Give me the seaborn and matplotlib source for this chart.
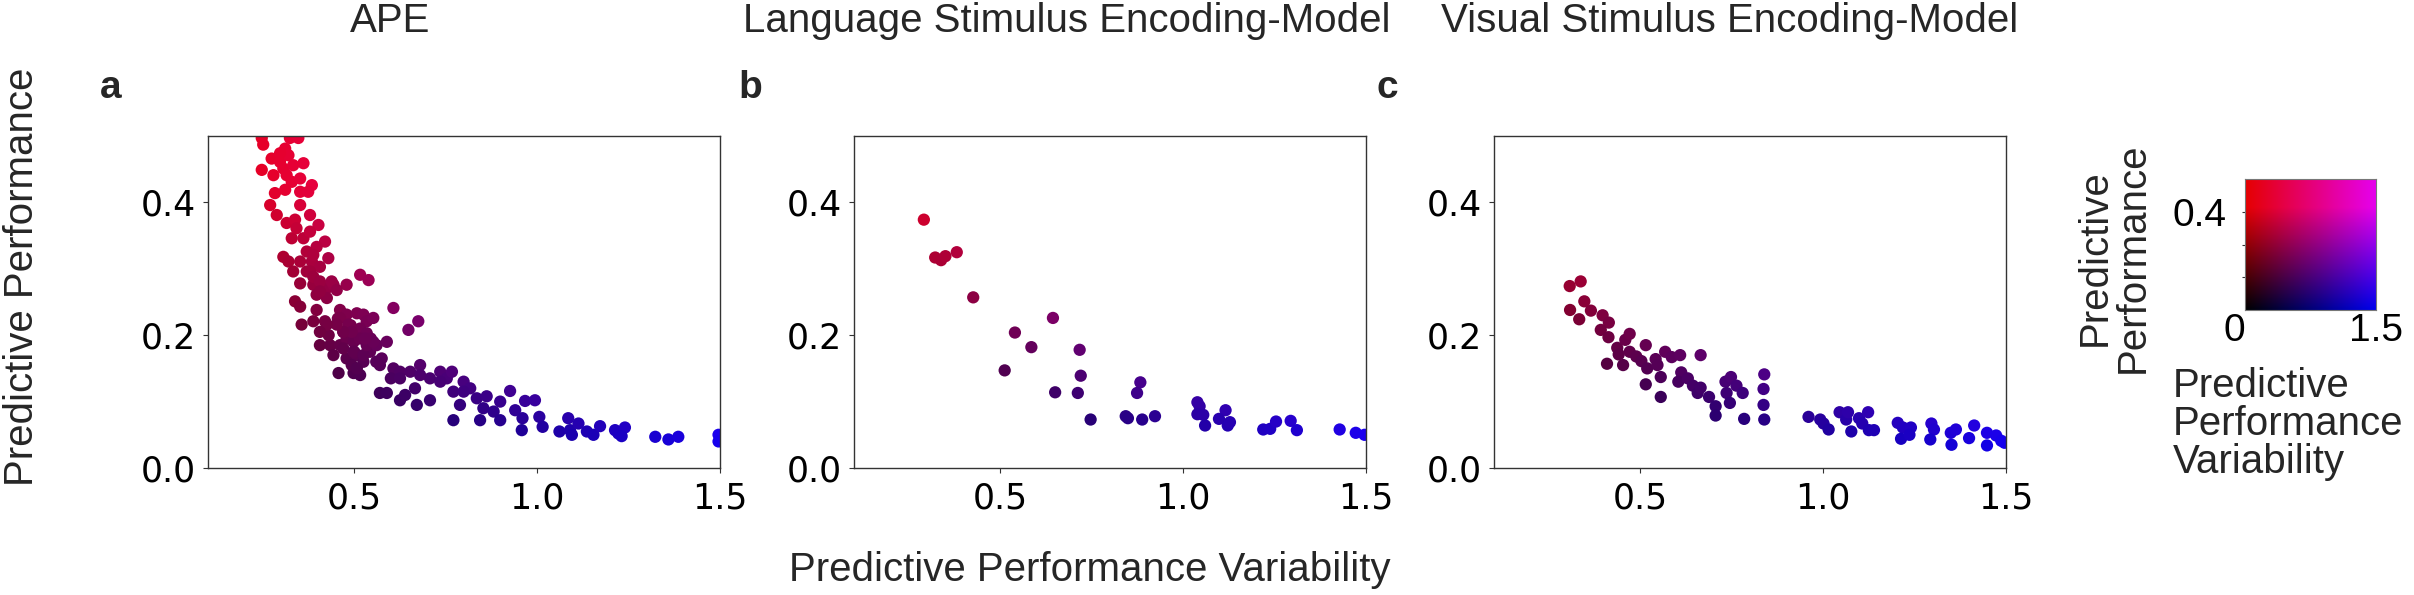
import numpy as np
import pandas as pd
import matplotlib
matplotlib.use("Agg")
import matplotlib.pyplot as plt
import seaborn as sns

# ── Data ──────────────────────────────────────────
ape_var = [0.247, 0.251, 0.274, 0.297, 0.311, 0.320, 0.324, 0.347, 0.306, 0.247,
           0.279, 0.315, 0.329, 0.361, 0.352, 0.384, 0.374, 0.283, 0.270, 0.288,
           0.352, 0.379, 0.315, 0.338, 0.402, 0.329, 0.361, 0.379, 0.420, 0.306,
           0.320, 0.333, 0.397, 0.429, 0.384, 0.370, 0.406, 0.352, 0.388, 0.425,
           0.443, 0.479, 0.397, 0.425, 0.338, 0.352, 0.356, 0.397, 0.420, 0.461,
           0.479, 0.507, 0.525, 0.534, 0.552, 0.516, 0.534, 0.406, 0.434, 0.443,
           0.461, 0.479, 0.498, 0.479, 0.507, 0.525, 0.543, 0.561, 0.589, 0.575,
           0.516, 0.539, 0.607, 0.648, 0.675, 0.457, 0.498, 0.516, 0.570, 0.607,
           0.625, 0.653, 0.680, 0.707, 0.666, 0.570, 0.589, 0.625, 0.639, 0.671,
           0.707, 0.735, 0.753, 0.771, 0.799, 0.789, 0.817, 0.835, 0.862, 0.853,
           0.881, 0.771, 0.844, 0.899, 0.899, 0.926, 0.940, 0.967, 0.994, 0.960,
           0.958, 1.006, 1.015, 1.061, 1.085, 1.090, 1.095, 1.113, 1.136, 1.154,
           1.172, 1.213, 1.222, 1.240, 1.231, 1.323, 1.359, 1.386, 1.496, 1.496,
           0.470, 0.490, 0.455, 0.515, 0.430, 0.470, 0.500, 0.545, 0.560, 0.600,
           0.461, 0.484, 0.493, 0.470, 0.452, 0.425, 0.388, 0.406, 0.498, 0.525,
           0.534, 0.552, 0.493, 0.507, 0.530, 0.379, 0.388, 0.406, 0.438, 0.452,
           0.406, 0.370, 0.388, 0.352, 0.342, 0.352, 0.297, 0.333, 0.311, 0.625,
           0.680, 0.735, 0.767, 0.799]
ape_perf = [0.497, 0.487, 0.466, 0.461, 0.481, 0.471, 0.497, 0.497, 0.451, 0.449,
            0.441, 0.441, 0.431, 0.459, 0.416, 0.426, 0.416, 0.414, 0.396, 0.381,
            0.396, 0.381, 0.369, 0.374, 0.366, 0.346, 0.346, 0.356, 0.341, 0.318,
            0.311, 0.296, 0.333, 0.316, 0.311, 0.296, 0.303, 0.278, 0.276, 0.271,
            0.276, 0.276, 0.261, 0.256, 0.251, 0.243, 0.216, 0.238, 0.221, 0.238,
            0.231, 0.233, 0.231, 0.221, 0.226, 0.210, 0.203, 0.185, 0.185, 0.170,
            0.185, 0.195, 0.190, 0.165, 0.170, 0.160, 0.175, 0.185, 0.190, 0.165,
            0.291, 0.283, 0.241, 0.208, 0.221, 0.143, 0.143, 0.140, 0.155, 0.150,
            0.145, 0.145, 0.155, 0.135, 0.120, 0.113, 0.113, 0.102, 0.110, 0.095,
            0.102, 0.145, 0.135, 0.115, 0.130, 0.095, 0.120, 0.105, 0.108, 0.090,
            0.085, 0.072, 0.072, 0.100, 0.072, 0.116, 0.087, 0.101, 0.102, 0.075,
            0.057, 0.077, 0.062, 0.055, 0.075, 0.057, 0.050, 0.067, 0.055, 0.050,
            0.063, 0.057, 0.052, 0.061, 0.048, 0.047, 0.043, 0.047, 0.050, 0.040,
            0.205, 0.215, 0.225, 0.195, 0.200, 0.180, 0.175, 0.195, 0.160, 0.135,
            0.226, 0.216, 0.205, 0.205, 0.216, 0.216, 0.221, 0.205, 0.175, 0.170,
            0.185, 0.190, 0.155, 0.150, 0.195, 0.296, 0.288, 0.281, 0.281, 0.268,
            0.266, 0.326, 0.321, 0.311, 0.361, 0.436, 0.474, 0.456, 0.419, 0.135,
            0.140, 0.130, 0.145, 0.115]

lang_var = [0.291, 0.322, 0.338, 0.350, 0.381, 0.426, 0.512, 0.540, 0.585, 0.644,
            0.650, 0.717, 0.720, 0.712, 0.747, 0.843, 0.849, 0.883, 0.874, 0.888,
            0.923, 1.039, 1.045, 1.039, 1.055, 1.060, 1.116, 1.098, 1.122, 1.128,
            1.219, 1.238, 1.254, 1.294, 1.311, 1.428, 1.472, 1.496]
lang_perf = [0.374, 0.317, 0.313, 0.319, 0.325, 0.257, 0.147, 0.204, 0.182, 0.226,
             0.114, 0.178, 0.139, 0.113, 0.073, 0.078, 0.075, 0.129, 0.113, 0.073,
             0.078, 0.099, 0.093, 0.081, 0.080, 0.064, 0.087, 0.074, 0.064, 0.069,
             0.058, 0.059, 0.070, 0.071, 0.057, 0.058, 0.053, 0.050]

vis_var = [0.307, 0.337, 0.308, 0.333, 0.347, 0.365, 0.397, 0.414, 0.392, 0.413,
           0.409, 0.437, 0.459, 0.471, 0.453, 0.441, 0.471, 0.489, 0.515, 0.503,
           0.519, 0.515, 0.542, 0.547, 0.568, 0.556, 0.556, 0.586, 0.609, 0.612,
           0.604, 0.630, 0.665, 0.644, 0.657, 0.665, 0.688, 0.706, 0.706, 0.733,
           0.748, 0.736, 0.763, 0.745, 0.780, 0.784, 0.839, 0.837, 0.837, 0.839,
           0.960, 0.992, 1.001, 1.015, 1.045, 1.063, 1.077, 1.068, 1.098, 1.107,
           1.123, 1.125, 1.139, 1.204, 1.218, 1.213, 1.240, 1.236, 1.296, 1.303,
           1.293, 1.349, 1.351, 1.363, 1.399, 1.413, 1.448, 1.448, 1.473, 1.487,
           1.496]
vis_perf = [0.274, 0.281, 0.238, 0.224, 0.251, 0.237, 0.230, 0.219, 0.208, 0.197,
            0.157, 0.181, 0.193, 0.202, 0.155, 0.171, 0.175, 0.168, 0.185, 0.161,
            0.150, 0.126, 0.164, 0.155, 0.175, 0.137, 0.107, 0.167, 0.170, 0.144,
            0.130, 0.135, 0.170, 0.124, 0.113, 0.121, 0.107, 0.093, 0.079, 0.130,
            0.137, 0.113, 0.124, 0.098, 0.113, 0.074, 0.141, 0.119, 0.095, 0.073,
            0.077, 0.073, 0.067, 0.058, 0.084, 0.073, 0.055, 0.084, 0.075, 0.067,
            0.084, 0.057, 0.057, 0.068, 0.061, 0.044, 0.061, 0.050, 0.067, 0.058,
            0.043, 0.053, 0.035, 0.058, 0.045, 0.064, 0.053, 0.034, 0.049, 0.041,
            0.038]

panel_titles = ["APE", "Language Stimulus Encoding-Model", "Visual Stimulus Encoding-Model"]
panel_letters = ["a", "b", "c"]
x_ticks = [0.5, 1.0, 1.5]
y_ticks = [0.0, 0.2, 0.4]


def bivariate_color(var, perf):
    # red grows with performance, blue with variability
    r = 0.9 * np.clip(np.asarray(perf, dtype=float) / 0.42, 0, 1)
    b = 0.93 * np.clip(np.asarray(var, dtype=float) / 1.5, 0, 1)
    return np.stack([r, np.zeros_like(r), b], axis=-1)


sns.set_style("ticks")
plt.rcParams['font.family'] = ['DejaVu Sans']
plt.rcParams.update({
    'axes.edgecolor': '#333333',
    'axes.linewidth': 1.0,
    'xtick.major.size': 3.6,
    'ytick.major.size': 3.6,
    'xtick.major.width': 0.8,
    'ytick.major.width': 0.8,
    'xtick.color': '#333333',
    'ytick.color': '#333333',
    'xtick.labelcolor': 'black',
    'ytick.labelcolor': 'black',
})
LABEL_FONT = ['Liberation Sans', 'DejaVu Sans']

W, H = 2414, 595
fig = plt.figure(figsize=(W / 100, H / 100), dpi=100)


def px_axes(x0, y0, x1, y1):
    return fig.add_axes([x0 / W, 1 - y1 / H, (x1 - x0) / W, (y1 - y0) / H])


panels = [(ape_var, ape_perf), (lang_var, lang_perf), (vis_var, vis_perf)]
lefts = [208, 854, 1494]

for (v, p), left in zip(panels, lefts):
    ax = px_axes(left, 136, left + 512, 468)
    df = pd.DataFrame({'var': v, 'perf': p})
    df['pt'] = np.arange(len(df))
    cols = [tuple(c) for c in bivariate_color(df['var'], df['perf'])]
    sns.scatterplot(data=df, x='var', y='perf', hue='pt', palette=cols,
                    s=78, linewidth=0, legend=False, ax=ax)
    ax.set_xlim(0.1, 1.5)
    ax.set_ylim(0, 0.5)
    ax.set_xticks(x_ticks)
    ax.set_yticks(y_ticks)
    ax.set_xticklabels([f"{t:.1f}" for t in x_ticks])
    ax.set_yticklabels([f"{t:.1f}" for t in y_ticks])
    ax.tick_params(labelsize=25)
    ax.tick_params(axis='x', pad=6)
    ax.tick_params(axis='y', pad=5)
    ax.set_xlabel('')
    ax.set_ylabel('')

# titles and panel letters
title_x = [390, 1067, 1730]
letter_x = [100, 738, 1377]
for t, cx in zip(panel_titles, title_x):
    fig.text(cx / W, 1 - 32 / H, t, ha='center', va='baseline',
             fontsize=29, family=LABEL_FONT)
for l, lx in zip(panel_letters, letter_x):
    fig.text(lx / W, 1 - 98 / H, l, ha='left', va='baseline',
             fontsize=28, fontweight='bold', family=LABEL_FONT)

fig.text(1090 / W, 1 - 581 / H, 'Predictive Performance Variability',
         ha='center', va='baseline', fontsize=29, family=LABEL_FONT)
fig.text(3 / W, 1 - 277 / H, 'Predictive Performance', rotation=90,
         ha='left', va='center', fontsize=29, family=LABEL_FONT)

# ── 2D colour key ─────────────────────────────────
lax = px_axes(2245, 179, 2376, 310)
key_top = 0.4 * 4 / 3
gv, gp = np.meshgrid(np.linspace(0, 1.5, 200), np.linspace(0, key_top, 200))
lax.imshow(bivariate_color(gv, gp), origin='lower', aspect='auto',
           extent=[0, 1.5, 0, key_top])
lax.set_xticks([0, 1.5])
lax.set_xticklabels(['0', '1.5'], fontsize=28, family=LABEL_FONT)
lax.get_xticklabels()[0].set_ha('right')
lax.set_yticks([0.1 * 4 / 3, 0.2 * 4 / 3, 0.4])
lax.set_yticklabels(['', '', '0.4'], fontsize=28, family=LABEL_FONT)
lax.tick_params(axis='x', length=0, pad=2)
lax.tick_params(axis='y', length=2.5, pad=11)
for sp in lax.spines.values():
    sp.set_color('#777777')
    sp.set_linewidth(0.8)

fig.text(2114 / W, 1 - 258 / H, 'Predictive\nPerformance', rotation=90,
         ha='center', va='center', ma='center', fontsize=29,
         family=LABEL_FONT, linespacing=1.0)
fig.text(2173 / W, 1 - 367 / H, 'Predictive\nPerformance\nVariability',
         ha='left', va='top', fontsize=29, family=LABEL_FONT, linespacing=1.0)

fig.savefig('out.png', dpi=100)
